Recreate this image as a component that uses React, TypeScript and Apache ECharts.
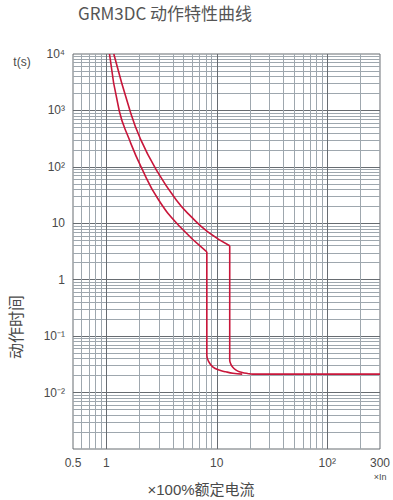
import React, { useEffect, useRef } from "react";
import * as echarts from "echarts";

// ---- data ----
const titleText = "GRM3DC 动作特性曲线";
const xAxisName = "×100%额定电流";
const yAxisName = "动作时间";
const yUnit = "t(s)";
const xUnit = "×In";

const xTickValues = [0.5, 1, 10, 100, 300];
const xTickLabels = ["0.5", "1", "10", "10²", "300"];
const yTickValues = [0.01, 0.1, 1, 10, 100, 1000, 10000];
const yTickLabels = ["10⁻²", "10⁻¹", "1", "10", "10²", "10³", "10⁴"];

const xMajorGrid = [1, 10, 100];
const xMinorGrid = [0.6, 0.7, 0.8, 0.9, 2, 3, 4, 5, 6, 7, 8, 9, 20, 30, 40, 50, 60, 70, 80, 90, 200];
const yMajorGrid = [0.01, 0.1, 1, 10, 100, 1000];
const yMinorGrid = [
  0.002, 0.003, 0.004, 0.005, 0.006, 0.007, 0.008, 0.009,
  0.02, 0.03, 0.04, 0.05, 0.06, 0.07, 0.08, 0.09,
  0.2, 0.3, 0.4, 0.5, 0.6, 0.7, 0.8, 0.9,
  2, 3, 4, 5, 6, 7, 8, 9,
  20, 30, 40, 50, 60, 70, 80, 90,
  200, 300, 400, 500, 600, 700, 800, 900,
  2000, 3000, 4000, 5000, 6000, 7000, 8000, 9000,
];

// inner (fast) curve: inverse-time part (current multiple, time s)
const innerUpperI = [1.07, 1.31, 1.61, 2.09, 2.98, 4.67, 8.13];
const innerUpperT = [10000, 988, 311, 95, 25.8, 8.57, 3.13];
// inner curve: instantaneous part
const innerLowerI = [8.13, 8.13, 8.13, 8.4, 9.19, 10.5, 12.1, 14, 17];
const innerLowerT = [3.13, 0.065, 0.046, 0.036, 0.0286, 0.025, 0.0233, 0.022, 0.0212];
// outer (slow) curve
const outerUpperI = [1.17, 1.64, 2.04, 2.78, 4.3, 5.89, 8.3, 13.1];
const outerUpperT = [10000, 988, 311, 95, 25.8, 13, 7.07, 4.0];
const outerLowerI = [13.1, 13.1, 13.1, 13.5, 14.3, 15.5, 17, 19, 21, 300];
const outerLowerT = [4.0, 0.05, 0.0375, 0.031, 0.0267, 0.024, 0.0227, 0.0218, 0.0212, 0.0212];

const pickLabel = (v: number, vals: number[], labels: string[]) => {
  let best = 0;
  let bd = Infinity;
  vals.forEach((t, i) => {
    const d = Math.abs(Math.log10(v) - Math.log10(t));
    if (d < bd) {
      bd = d;
      best = i;
    }
  });
  return bd < 0.05 ? labels[best] : "";
};

const RED = "#c8163a";
const TXT = "#4a4a4a";
const MINOR = "#9ea7ae";
const MAJOR = "#676c71";
const FONT = "'Liberation Sans Narrow', 'Liberation Sans', Arial, sans-serif";
const CJK = "'Noto Sans CJK SC', sans-serif";
const MIX = "'Liberation Sans', 'Noto Sans CJK SC', sans-serif";

export default function App() {
  const ref = useRef<HTMLDivElement>(null);
  useEffect(() => {
    if (!ref.current) return;
    const chart = echarts.init(ref.current, undefined, { renderer: "svg" });
    const zip = (a: number[], b: number[]) => a.map((v, i) => [v, b[i]]);
    const curve = (data: number[][], smooth: number) => ({
      type: "line",
      xAxisIndex: 1,
      yAxisIndex: 1,
      data,
      smooth,
      showSymbol: false,
      lineStyle: { color: RED, width: 1.6 },
      z: 5,
    });
    chart.setOption({
      animation: false,
      backgroundColor: "#fff",
      grid: {
        left: 73,
        top: 54,
        width: 312,
        height: 395,
        show: true,
        borderColor: MAJOR,
        borderWidth: 1,
        backgroundColor: "transparent",
      },
      xAxis: [
        {
          type: "log",
          logBase: 10,
          min: 0.5,
          max: 300,
          position: "top",
          axisLine: { show: false },
          axisTick: { show: false, customValues: xMinorGrid },
          axisLabel: { show: false },
          splitLine: { show: true, lineStyle: { color: MINOR, width: 1 } },
        },
        {
          type: "log",
          logBase: 10,
          min: 0.5,
          max: 300,
          position: "bottom",
          axisLine: { show: false },
          axisTick: { show: false, customValues: xMajorGrid },
          axisLabel: {
            customValues: xTickValues,
            formatter: (v: number) => pickLabel(v, xTickValues, xTickLabels),
            color: TXT,
            fontSize: 12,
            fontFamily: FONT,
            margin: 8,
          },
          splitLine: { show: true, lineStyle: { color: MAJOR, width: 1 } },
        },
      ],
      yAxis: [
        {
          type: "log",
          logBase: 10,
          min: 0.001,
          max: 10000,
          position: "right",
          axisLine: { show: false },
          axisTick: { show: false, customValues: yMinorGrid },
          axisLabel: { show: false },
          splitLine: { show: true, lineStyle: { color: MINOR, width: 1 } },
        },
        {
          type: "log",
          logBase: 10,
          min: 0.001,
          max: 10000,
          position: "left",
          axisLine: { show: false },
          axisTick: { show: false, customValues: yMajorGrid },
          axisLabel: {
            customValues: yTickValues,
            formatter: (v: number) => pickLabel(v, yTickValues, yTickLabels),
            color: TXT,
            fontSize: 12,
            fontFamily: FONT,
            margin: 8,
          },
          splitLine: { show: true, lineStyle: { color: MAJOR, width: 1 } },
        },
      ],
      series: [
        curve(zip(innerUpperI, innerUpperT), 0.5),
        curve(zip(innerLowerI, innerLowerT), 0.4),
        curve(zip(outerUpperI, outerUpperT), 0.5),
        curve(zip(outerLowerI, outerLowerT), 0.4),
      ],
      graphic: [
        {
          type: "text",
          left: 78,
          top: 4,
          style: { text: titleText, fill: "#555", font: `17px ${CJK}` },
        },
        {
          type: "text",
          x: 22,
          y: 62,
          style: { text: yUnit, fill: TXT, font: `12px ${FONT}`, align: "center", verticalAlign: "middle" },
        },
        {
          type: "text",
          x: 15,
          y: 327,
          rotation: Math.PI / 2,
          style: { text: yAxisName, fill: TXT, font: `16px ${CJK}`, align: "center", verticalAlign: "middle" },
        },
        {
          type: "text",
          x: 201,
          y: 489,
          style: { text: xAxisName, fill: TXT, font: `15px ${MIX}`, align: "center", verticalAlign: "middle" },
        },
        {
          type: "text",
          x: 380,
          y: 477,
          style: { text: xUnit, fill: TXT, font: `9px ${FONT}`, align: "center", verticalAlign: "middle" },
        },
      ],
    });
    return () => chart.dispose();
  }, []);
  return (
    <div
      ref={ref}
      style={{ position: "absolute", left: 0, top: 0, width: 393, height: 500 }}
    />
  );
}
